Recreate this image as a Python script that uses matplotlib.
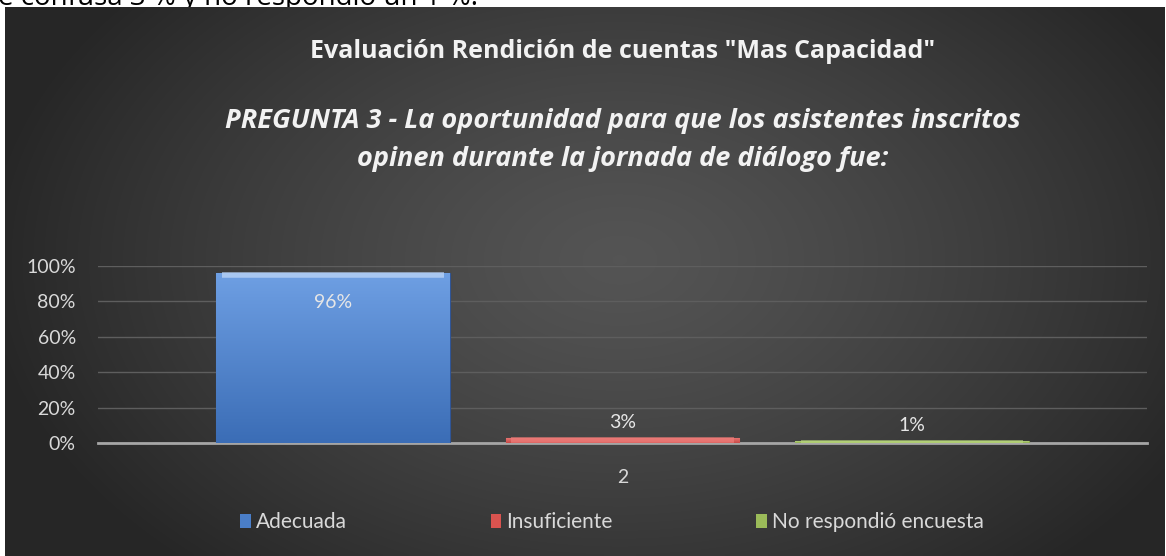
import numpy as np
import matplotlib.pyplot as plt
from matplotlib.patches import Rectangle
from matplotlib.colors import LinearSegmentedColormap

plt.rcParams['font.family'] = ['Lato', 'DejaVu Sans']

# Data
category = "2"
series = ["Adecuada", "Insuficiente", "No respondió encuesta"]
values = [0.96, 0.03, 0.01]
value_labels = ["96%", "3%", "1%"]
yticks = [0, 0.2, 0.4, 0.6, 0.8, 1.0]
ytick_labels = ["0%", "20%", "40%", "60%", "80%", "100%"]

title = 'Evaluación Rendición de cuentas "Mas Capacidad"'
subtitle = ("PREGUNTA 3 - La oportunidad para que los asistentes inscritos\n"
            "opinen durante la jornada de diálogo fue:")
page_text = "e confusa 3 % y no respondió un 1 %."

# colours (top, bottom) for each bar gradient
bar_colors = [("#6E9FE3", "#3B6DB6"), ("#EC7B78", "#C94A47"), ("#B5D27A", "#8DAE4E")]
legend_colors = ["#4A7EC8", "#D9534F", "#9BBB59"]

W, H = 1166, 556
fig = plt.figure(figsize=(W / 100, H / 100), dpi=100)
fig.patch.set_facecolor("white")

# background layer in pixel coords
bg = fig.add_axes([0, 0, 1, 1])
bg.set_xlim(0, W)
bg.set_ylim(H, 0)
bg.axis("off")

# text of the page behind the chart, cut off at the top
bg.text(-2, 5, page_text, fontsize=20, color="black", ha="left", va="baseline",
        family=["Open Sans", "DejaVu Sans"], zorder=0)

# radial-ish dark gradient for the chart area
x0, x1, y0, y1 = 5, 1165, 7, 556
gx = np.linspace(x0, x1, 300)
gy = np.linspace(y0, y1, 150)
GX, GY = np.meshgrid(gx, gy)
d = np.sqrt(((GX - 620) / 640) ** 2 + ((GY - 260) / 420) ** 2)
d = np.clip(d, 0, 1)
shade = 0.33 - 0.18 * d ** 1.3
bg.imshow(np.dstack([shade, shade, shade]), extent=(x0, x1, y1, y0),
          aspect="auto", zorder=1, interpolation="bilinear")

# titles
bg.text(623, 52, title, ha="center", va="center", fontsize=18, fontweight="bold",
        color="#F2F2F2", family=["Open Sans", "DejaVu Sans"], zorder=3)
bg.text(623, 140, subtitle, ha="center", va="center", fontsize=19.5, fontweight="bold",
        fontstyle="italic", color="#F2F2F2", linespacing=1.55,
        family=["Open Sans", "DejaVu Sans"], zorder=3)

# plot area
ax = fig.add_axes([98 / W, 1 - 443 / H, (1147 - 98) / W, (443 - 266) / H])
ax.set_facecolor("none")
ax.set_xlim(-1.81, 1.81)
ax.set_ylim(0, 1)

offsets = [-1, 0, 1]
width = 0.807
for off, v, (ctop, cbot), lab in zip(offsets, values, bar_colors, value_labels):
    rect = Rectangle((off - width / 2, 0), width, v, facecolor=cbot,
                     edgecolor="#2F5597" if off == -1 else cbot, linewidth=0.8, zorder=3)
    ax.add_patch(rect)
    cmap = LinearSegmentedColormap.from_list("g", [cbot, ctop])
    grad = np.linspace(0, 1, 100).reshape(-1, 1)
    im = ax.imshow(grad, cmap=cmap, origin="lower", aspect="auto",
                   extent=(off - width / 2, off + width / 2, 0, v), zorder=3)
    im.set_clip_path(rect)
    # light bevel on top edge
    ax.plot([off - width / 2 + 0.02, off + width / 2 - 0.02], [v - 0.012, v - 0.012],
            color="#B8D2F5" if off == -1 else ctop, lw=4, zorder=4,
            solid_capstyle="butt", alpha=0.8)
    if v > 0.5:
        ax.annotate(lab, (off, v), xytext=(0, -21), textcoords="offset points",
                    ha="center", va="center", fontsize=14, color="#E6E6E6", zorder=5)
    else:
        ax.annotate(lab, (off, v), xytext=(0, 11), textcoords="offset points",
                    ha="center", va="center", fontsize=14, color="#E6E6E6", zorder=5)

ax.set_yticks(yticks)
ax.set_yticklabels(ytick_labels)
ax.set_xticks([0])
ax.set_xticklabels([category])
ax.tick_params(axis="both", length=0, labelsize=14, labelcolor="#D9D9D9")
ax.tick_params(axis="y", pad=16)
ax.tick_params(axis="x", pad=19)
ax.grid(axis="y", color="#5E5E5E", linewidth=1, zorder=0)
for s in ["top", "right", "left"]:
    ax.spines[s].set_visible(False)
ax.spines["bottom"].set_color("#A6A6A6")
ax.spines["bottom"].set_linewidth(2)
ax.spines["bottom"].set_zorder(2)

# legend
handles = [Rectangle((0, 0), 1, 1, facecolor=c, edgecolor="none") for c in legend_colors]
leg = fig.legend(handles, series, loc="center", bbox_to_anchor=(612 / W, 1 - 522 / H),
                 ncol=3, frameon=False, fontsize=15, labelcolor="#D9D9D9",
                 handlelength=0.5, handleheight=0.65, handletextpad=0.25,
                 columnspacing=6.9)

fig.savefig("out.png", dpi=100, facecolor=fig.get_facecolor())
